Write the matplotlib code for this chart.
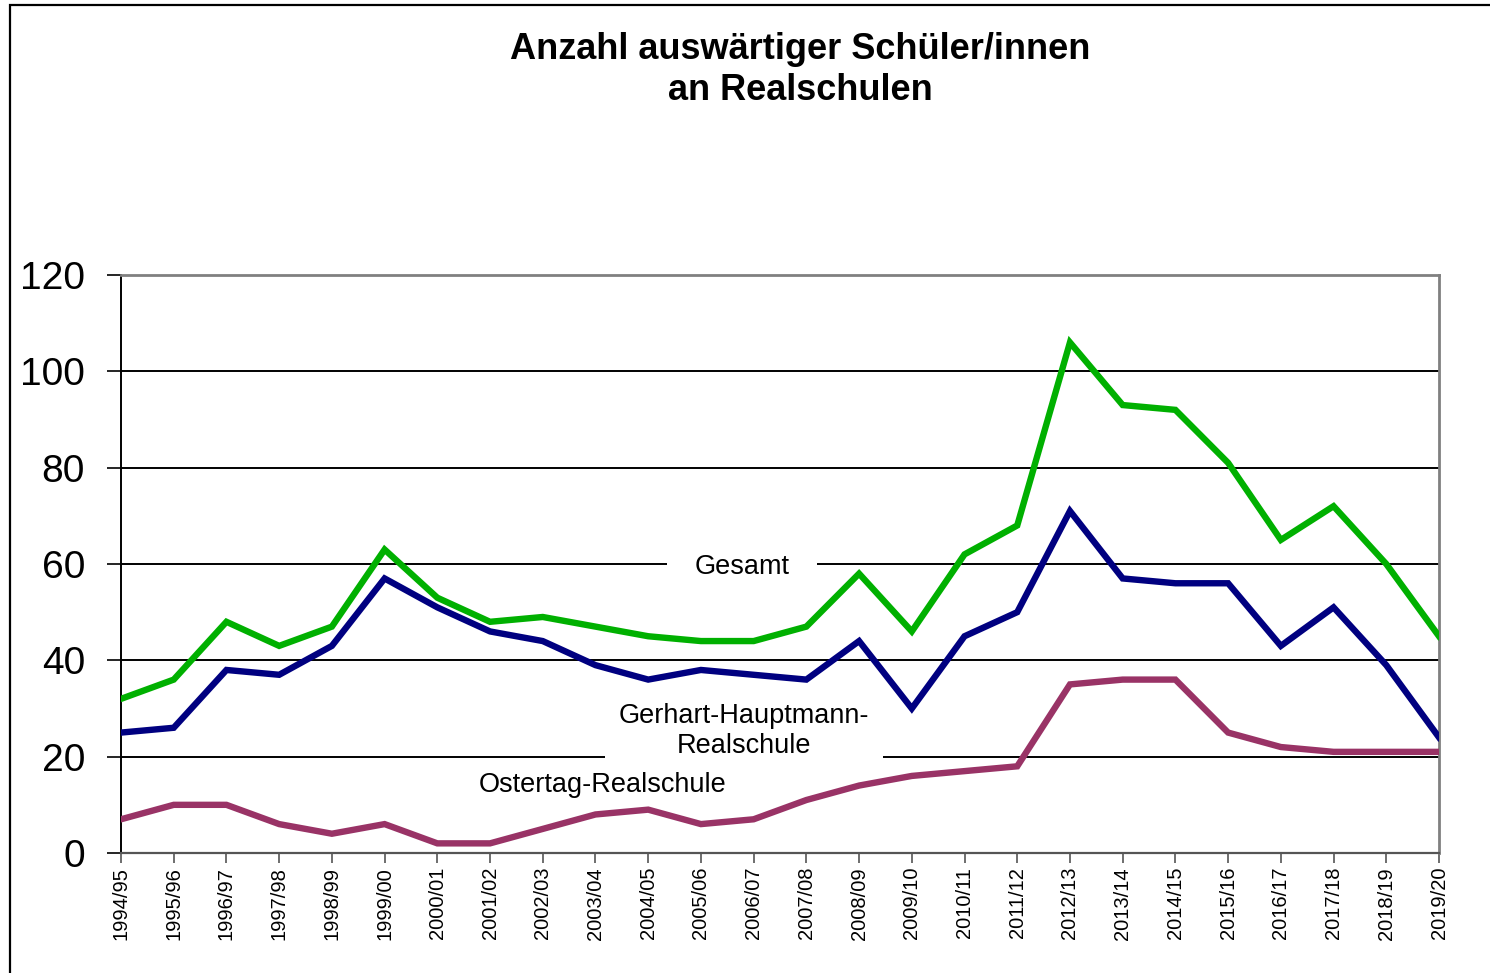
import matplotlib
matplotlib.use("Agg")
import matplotlib.pyplot as plt
from matplotlib.patches import Rectangle

plt.rcParams['font.family'] = ['Liberation Sans', 'DejaVu Sans']

# Schuljahre
jahre = ["1994/95", "1995/96", "1996/97", "1997/98", "1998/99", "1999/00",
         "2000/01", "2001/02", "2002/03", "2003/04", "2004/05", "2005/06",
         "2006/07", "2007/08", "2008/09", "2009/10", "2010/11", "2011/12",
         "2012/13", "2013/14", "2014/15", "2015/16", "2016/17", "2017/18",
         "2018/19", "2019/20"]

gesamt = [32, 36, 48, 43, 47, 63, 53, 48, 49, 47, 45, 44, 44, 47, 58, 46,
          62, 68, 106, 93, 92, 81, 65, 72, 60, 45]
gerhart = [25, 26, 38, 37, 43, 57, 51, 46, 44, 39, 36, 38, 37, 36, 44, 30,
           45, 50, 71, 57, 56, 56, 43, 51, 39, 24]
ostertag = [7, 10, 10, 6, 4, 6, 2, 2, 5, 8, 9, 6, 7, 11, 14, 16,
            17, 18, 35, 36, 36, 25, 22, 21, 21, 21]

fig = plt.figure(figsize=(14.9, 9.73), dpi=100)
ax = fig.add_axes([121/1490, 1 - 853/973, 1318/1490, 578/973])

# Rahmen um das Diagramm
fig.patches.append(Rectangle((10/1490, -0.1), 1.2, 1.1 - 5/973, transform=fig.transFigure,
                             fill=False, edgecolor='black', linewidth=1.6))

x = list(range(len(jahre)))
ax.plot(x, gesamt, color='#00b000', lw=4.6, solid_joinstyle='miter', zorder=3)
ax.plot(x, gerhart, color='#000080', lw=4.6, solid_joinstyle='miter', zorder=3)
ax.plot(x, ostertag, color='#993366', lw=4.6, solid_joinstyle='miter', zorder=3)

ax.set_xlim(0, len(jahre) - 1)
ax.set_ylim(0, 120)
ax.set_yticks(range(0, 121, 20))
ax.set_xticks(x)
ax.set_xticklabels(jahre, rotation=90, fontsize=14.5)
ax.tick_params(axis='y', labelsize=28, length=10, width=1.2, direction='out', pad=16)
ax.tick_params(axis='x', length=7, width=1.2, color='#555555', direction='out', pad=3)
ax.grid(axis='y', color='black', lw=1.4, zorder=1)
ax.set_axisbelow(True)

for s in ['top', 'right']:
    ax.spines[s].set_color('#808080')
    ax.spines[s].set_linewidth(2)
ax.spines['left'].set_color('black')
ax.spines['left'].set_linewidth(1.4)
ax.spines['bottom'].set_color('#555555')
ax.spines['bottom'].set_linewidth(1.6)

ax.text(11.78, 59.4, "Gesamt", ha='center', va='center', fontsize=19.5, zorder=2,
        bbox=dict(facecolor='white', edgecolor='none', pad=20))
ax.text(11.82, 25.3, "Gerhart-Hauptmann-\nRealschule", ha='center', va='center',
        fontsize=19.5, zorder=2, linespacing=1.2,
        bbox=dict(facecolor='white', edgecolor='none', pad=10))
ax.text(9.14, 14.2, "Ostertag-Realschule", ha='center', va='center', fontsize=19.5,
        zorder=2, bbox=dict(facecolor='white', edgecolor='none', pad=2))

fig.text(800/1490, 1 - 70/973, "Anzahl auswärtiger Schüler/innen\nan Realschulen",
         ha='center', va='center', fontsize=26, fontweight='bold', linespacing=1.25)

fig.savefig("out.png", dpi=100)
